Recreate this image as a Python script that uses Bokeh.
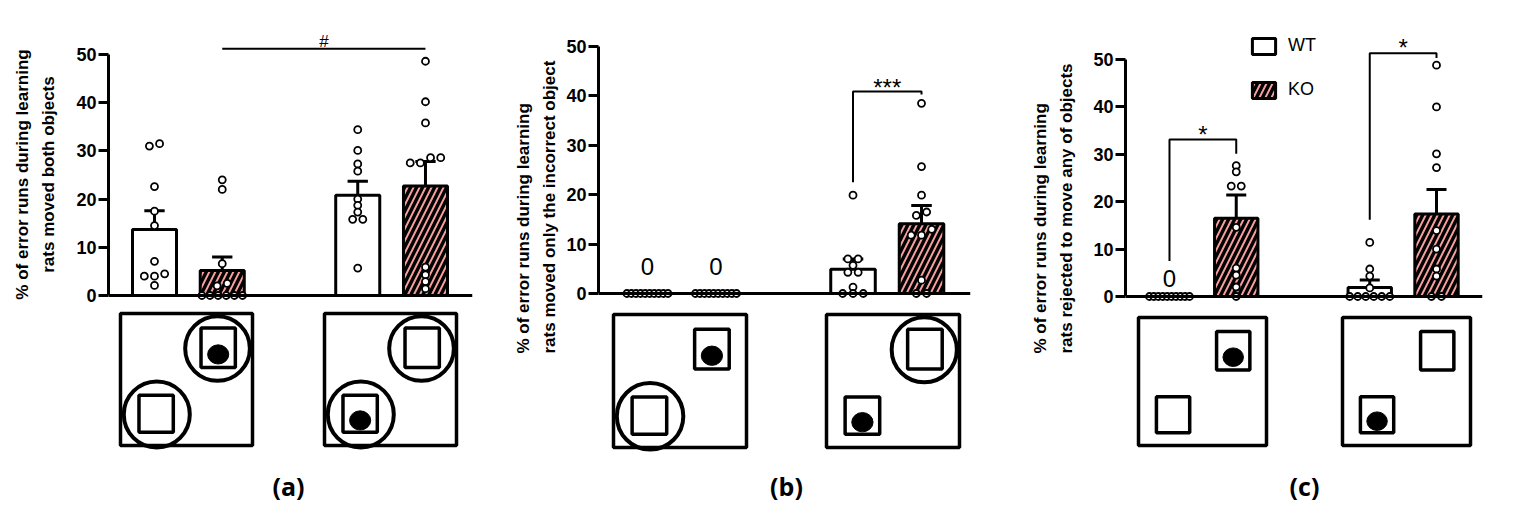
import math
from bokeh.plotting import figure
from bokeh.layouts import row
from bokeh.models import Range1d, FixedTicker, Span, Legend, LegendItem
from bokeh.core.properties import value
from bokeh.embed import file_html
from bokeh.resources import INLINE

# ---------------- data ----------------
group_x = [1, 2, 4, 5]            # WT / KO, first arena ; WT / KO, second arena
group_is_ko = [False, True, False, True]

# panel (a): moved both objects
a_means = [13.7, 5.2, 20.8, 22.7]
a_sem = [3.9, 2.8, 2.9, 5.1]
a_wt1 = [31.0, 31.5, 22.6, 17.5, 14.5, 7.1, 4.5, 4.0, 4.0, 2.1]
a_ko1 = [24.0, 22.0, 6.6, 2.5, 2.0, 0, 0, 0, 0, 0, 0]
a_wt2 = [34.4, 30.1, 27.3, 25.8, 20.0, 18.7, 17.3, 15.8, 15.8, 5.7]
a_ko2 = [48.6, 40.2, 35.8, 28.6, 28.6, 27.5, 27.5, 5.9, 4.3, 2.9, 1.4]

# panel (b): moved only the incorrect object
b_means = [0, 0, 4.9, 14.1]
b_sem = [0, 0, 2.1, 3.7]
b_wt1 = [0] * 10
b_ko1 = [0] * 10
b_wt2 = [19.9, 7.0, 7.0, 5.7, 4.3, 4.3, 1.3, 0, 0, 0]
b_ko2 = [38.5, 25.7, 19.9, 16.5, 15.8, 13.0, 11.8, 11.8, 2.7, 0, 0]

# panel (c): rejected to move any of objects
c_means = [0, 16.5, 1.9, 17.4]
c_sem = [0, 4.9, 1.6, 5.2]
c_wt1 = [0] * 10
c_ko1 = [27.6, 26.3, 23.3, 23.3, 14.6, 6.0, 4.5, 2.0, 0]
c_wt2 = [11.4, 5.8, 4.3, 1.8, 0, 0, 0, 0, 0, 0]
c_ko2 = [48.8, 40.0, 30.1, 27.2, 13.9, 10.0, 5.8, 4.3, 0, 0]

y_ticks = [0, 10, 20, 30, 40, 50]

labels_y = {
    "a": "% of error runs during learning\nrats moved both objects",
    "b": "% of error runs during learning\nrats moved only the incorrect object",
    "c": "% of error runs during learning\nrats rejected to move any of objects",
}
panel_tags = {"a": "(a)", "b": "(b)", "c": "(c)"}

# significance marks: (left group, right group, left leg bottom, top, right leg bottom, text, text y)
a_marks = [(2, 5, 51.2, 51.2, 51.2, "#", 52.6)]
b_marks = [(4, 5, 22.5, 40.9, 40.3, "***", 41.8)]
c_marks = [(1, 2, 7.5, 33.1, 30.1, "*", 34.1), (4, 5, 16.2, 51.3, 50.3, "*", 52.6)]

# groups (1-based) whose value is 0 and labelled "0"
b_zero_labels = [1, 2]
c_zero_labels = [1]

# arena diagrams: which object carries the bait and which objects are circled
arena_bait = ["TR", "BL"]
a_rings = [["TR", "BL"], ["TR", "BL"]]
b_rings = [["BL"], ["TR"]]
c_rings = [[], []]

# ---------------- style / layout ----------------
FONT = "Liberation Sans"
KO_COLOR = "#f4a09e"
BAR_W = 0.65
FIG_H = 512
FRAME_TOP = 30

panels = {
    "a": dict(means=a_means, sem=a_sem, pts=[a_wt1, a_ko1, a_wt2, a_ko2], marks=a_marks,
              zeros=[], rings=a_rings, lab_left=0, lab_w=62, width=418, bl=46, br=8,
              xr=(0.321, 5.694), yr=(-45.02, 54.98), zero_y=2.6,
              label_pos=(35, 174), label_align="center",
              arena_left=[120, 324], arena_top=313, arena_size=132),
    "b": dict(means=b_means, sem=b_sem, pts=[b_wt1, b_ko1, b_wt2, b_ko2], marks=b_marks,
              zeros=b_zero_labels, rings=b_rings, lab_left=480, lab_w=80, width=430,
              bl=38, br=20, xr=(0.285, 5.715), yr=(-44.33, 53.24), zero_y=5.4,
              label_pos=(536, 353), label_align="left",
              arena_left=[613, 826], arena_top=314, arena_size=133),
    "c": dict(means=c_means, sem=c_sem, pts=[c_wt1, c_ko1, c_wt2, c_ko2], marks=c_marks,
              zeros=c_zero_labels, rings=c_rings, lab_left=990, lab_w=86, width=437,
              bl=49, br=31, xr=(0.341, 5.689), yr=(-45.57, 56.12), zero_y=3.8,
              label_pos=(1053, 353), label_align="left",
              arena_left=[1138, 1342], arena_top=317, arena_size=128),
}


def swarm(vals, thr=1.2, step=0.15, maxw=0.6):
    order = sorted(range(len(vals)), key=lambda i: vals[i])
    groups, cur = [], [order[0]]
    for i in order[1:]:
        if vals[i] - vals[cur[-1]] < thr:
            cur.append(i)
        else:
            groups.append(cur)
            cur = [i]
    groups.append(cur)
    offs = [0.0] * len(vals)
    for g in groups:
        n = len(g)
        s = step if n <= 1 else min(step, maxw / (n - 1))
        for k, i in enumerate(g):
            offs[i] = (k - (n - 1) / 2) * s
    return offs


def label_figure(key):
    cfg = panels[key]
    L, w = cfg["lab_left"], cfg["lab_w"]
    p = figure(width=w, height=FIG_H, x_range=Range1d(L, L + w),
               y_range=Range1d(FIG_H, FRAME_TOP), output_backend="svg",
               toolbar_location=None, x_axis_type=None, y_axis_type=None,
               min_border_left=0, min_border_right=0, min_border_top=FRAME_TOP,
               min_border_bottom=0)
    p.grid.visible = False
    p.outline_line_color = None
    lx, ly = cfg["label_pos"]
    p.text(x=[lx], y=[ly], text=[labels_y[key]], angle=math.pi / 2,
           text_align=cfg["label_align"], text_baseline="middle", text_font=value(FONT),
           text_font_style="bold", text_font_size="17px", text_color="black",
           text_line_height=1.4)
    return p


def panel_figure(key):
    cfg = panels[key]
    W = cfg["width"]
    left = cfg["lab_left"] + cfg["lab_w"]
    p = figure(width=W, height=FIG_H, x_range=Range1d(*cfg["xr"]),
               y_range=Range1d(*cfg["yr"]), output_backend="svg", toolbar_location=None,
               x_axis_type=None, min_border_left=cfg["bl"], min_border_right=cfg["br"],
               min_border_top=FRAME_TOP, min_border_bottom=0)
    p.extra_x_ranges = {"px": Range1d(left + cfg["bl"], left + W - cfg["br"])}
    p.extra_y_ranges = {"px": Range1d(FIG_H, FRAME_TOP)}
    p.grid.visible = False
    p.outline_line_color = None
    p.background_fill_color = "white"
    p.border_fill_color = "white"

    ya = p.yaxis[0]
    ya.bounds = (0, 50)
    ya.ticker = FixedTicker(ticks=y_ticks)
    ya.minor_tick_line_color = None
    ya.major_tick_in = 0
    ya.major_tick_out = 10
    ya.major_tick_line_width = 3
    ya.axis_line_width = 3
    ya.major_label_text_font = FONT
    ya.major_label_text_font_style = "bold"
    ya.major_label_text_font_size = "18px"
    ya.major_label_text_color = "black"
    ya.major_label_standoff = 2

    means, sem = cfg["means"], cfg["sem"]
    wt_x = [x for x, k in zip(group_x, group_is_ko) if not k]
    wt_top = [m for m, k in zip(means, group_is_ko) if not k]
    ko_x = [x for x, k in zip(group_x, group_is_ko) if k]
    ko_top = [m for m, k in zip(means, group_is_ko) if k]

    wt_r = p.vbar(x=wt_x, top=wt_top, bottom=0, width=BAR_W, fill_color="white",
                  line_color="black", line_width=3)
    ko_r = p.vbar(x=ko_x, top=ko_top, bottom=0, width=BAR_W, fill_color=KO_COLOR,
                  line_color="black", line_width=3, hatch_pattern="/",
                  hatch_color="black", hatch_weight=3.4, hatch_scale=12)

    ex = [x for x, s in zip(group_x, sem) if s > 0]
    eb = [m for m, s in zip(means, sem) if s > 0]
    et = [m + s for m, s in zip(means, sem) if s > 0]
    p.segment(x0=ex, y0=eb, x1=ex, y1=et, line_color="black", line_width=3)
    p.segment(x0=[x - 0.15 for x in ex], y0=et, x1=[x + 0.15 for x in ex], y1=et,
              line_color="black", line_width=3)

    for gx, vals in zip(group_x, cfg["pts"]):
        offs = swarm(vals)
        p.scatter(x=[gx + o for o in offs], y=vals, marker="circle", size=7,
                  fill_color="white", line_color="black", line_width=1.8)

    for (g1, g2, yl, yt, yr_, txt, ty) in cfg["marks"]:
        p.line(x=[g1, g1, g2, g2], y=[yl, yt, yt, yr_], line_color="black", line_width=2)
        p.text(x=[(g1 + g2) / 2], y=[ty], text=[txt], text_align="center",
               text_baseline="alphabetic", text_font=value(FONT),
               text_font_size="17px" if txt == "#" else "24px", text_color="black")

    if cfg["zeros"]:
        zx = [group_x[g - 1] for g in cfg["zeros"]]
        p.text(x=zx, y=[cfg["zero_y"]] * len(zx), text=["0"] * len(zx),
               text_align="center", text_baseline="alphabetic", text_font=value(FONT),
               text_font_size="24px", text_color="black")

    p.add_layout(Span(location=0, dimension="width", line_color="black", line_width=3))

    if key == "c":
        leg = Legend(items=[LegendItem(label="WT", renderers=[wt_r]),
                            LegendItem(label="KO", renderers=[ko_r])],
                     location=(124, FIG_H - 100), orientation="vertical", glyph_width=29,
                     glyph_height=20, label_height=20, spacing=23, padding=0, margin=0,
                     label_standoff=10, border_line_color=None, background_fill_alpha=0,
                     label_text_font=FONT, label_text_font_size="18px",
                     label_text_color="black")
        p.add_layout(leg)

    # arena diagrams under the bars (drawn in pixel coordinates)
    S = cfg["arena_size"]
    T = cfg["arena_top"]
    obj_box = {"TR": (0.61, 0.87, 0.11, 0.41), "BL": (0.14, 0.40, 0.62, 0.90)}
    ball = {"TR": (0.74, 0.31), "BL": (0.27, 0.81)}
    ring = {"TR": (0.735, 0.265, 0.245), "BL": (0.275, 0.765, 0.25)}
    kw = dict(x_range_name="px", y_range_name="px")
    for L, bait, rings in zip(cfg["arena_left"], arena_bait, cfg["rings"]):
        p.quad(left=[L], right=[L + S], top=[T], bottom=[T + S], fill_color=None,
               line_color="black", line_width=3.5, **kw)
        for o, (x0, x1, y0, y1) in obj_box.items():
            p.quad(left=[L + x0 * S], right=[L + x1 * S], top=[T + y0 * S],
                   bottom=[T + y1 * S], fill_color=None, line_color="black",
                   line_width=3.5, **kw)
        bx, by = ball[bait]
        p.ellipse(x=[L + bx * S], y=[T + by * S], width=0.16 * S, height=0.145 * S,
                  fill_color="black", line_color="black", **kw)
        for o in rings:
            rx, ry, rr = ring[o]
            p.circle(x=[L + rx * S], y=[T + ry * S], radius=rr * S, fill_color=None,
                     line_color="black", line_width=4, **kw)
    cx = (cfg["arena_left"][0] + cfg["arena_left"][1] + S) / 2
    p.text(x=[cx], y=[485], text=[panel_tags[key]], text_align="center",
           text_baseline="middle", text_font=value("Open Sans"), text_font_style="bold",
           text_font_size="25px", text_color="black", **kw)
    return p


children = []
for k in ["a", "b", "c"]:
    children.append(label_figure(k))
    children.append(panel_figure(k))
layout = row(*children)
open("out.html", "w").write(file_html(layout, INLINE))
